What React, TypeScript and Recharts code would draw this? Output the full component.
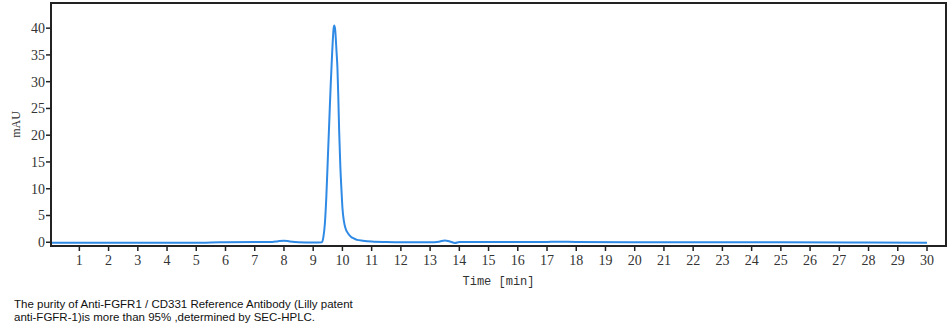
import React from 'react';
import { LineChart, Line, XAxis, YAxis, ReferenceArea } from 'recharts';

const times = [
  0, 1, 2, 3, 4, 5, 5.5, 6, 7, 7.6, 7.8, 8.0, 8.2, 8.5, 9.0, 9.3,
  9.35, 9.4, 9.45, 9.5, 9.55, 9.6, 9.65, 9.7, 9.72, 9.75, 9.8, 9.83, 9.86, 9.89, 9.93, 9.97,
  10.0, 10.05, 10.1, 10.2, 10.3, 10.4, 10.5, 10.7, 11.0, 11.5, 12, 13, 13.3, 13.5, 13.7, 13.85,
  14.0, 15, 17, 17.3, 18, 20, 25, 28, 30,
];
const absorbance = [
  -0.1, -0.1, -0.1, -0.1, -0.1, -0.1, -0.05, 0.0, 0.05, 0.05, 0.2, 0.3, 0.15, 0.0, -0.05, 0.0,
  1.0, 3.5, 8.5, 15.5, 22.5, 29.5, 35.5, 40.0, 40.5, 39.8, 35.5, 32.5, 27.0, 20.5, 14.0, 9.5,
  6.5, 4.0, 2.7, 1.6, 1.0, 0.7, 0.45, 0.3, 0.15, 0.05, 0.0, 0.0, 0.1, 0.35, 0.1, -0.15,
  0.05, 0.05, 0.05, 0.1, 0.05, 0.0, 0.0, -0.05, -0.1,
];
const xTicks = Array.from({ length: 30 }, (_, i) => i + 1);
const yTicks = [0, 5, 10, 15, 20, 25, 30, 35, 40];
const captionLines = [
  'The purity of Anti-FGFR1 / CD331 Reference Antibody (Lilly patent',
  'anti-FGFR-1)is more than 95% ,determined by SEC-HPLC.',
];

const data = times.map((t, i) => ({ t, v: absorbance[i] }));

const X_DOMAIN: [number, number] = [0.03, 30.65];
const Y_DOMAIN: [number, number] = [-0.7, 44.7];

const SERIF = '"Liberation Serif", "DejaVu Serif", serif';

const XTick = (props: any) => {
  const { x, y, payload } = props;
  return (
    <text x={x} y={y + 13} textAnchor="middle" fontFamily={SERIF} fontSize={14} fill="#333">
      {payload.value}
    </text>
  );
};

const YTick = (props: any) => {
  const { x, y, payload } = props;
  return (
    <text x={x} y={y + 5} textAnchor="end" fontFamily={SERIF} fontSize={14} fill="#333">
      {payload.value}
    </text>
  );
};

export default function App() {
  return (
    <div style={{ position: 'absolute', left: 0, top: 0, width: 952, height: 335, background: '#fff' }}>
      <LineChart
        width={952}
        height={335}
        data={data}
        margin={{ top: 3, right: 6, left: 0, bottom: 0 }}
      >
        <XAxis
          dataKey="t"
          type="number"
          domain={X_DOMAIN}
          ticks={xTicks}
          allowDataOverflow
          height={89}
          axisLine={{ stroke: '#222', strokeWidth: 2 }}
          tickLine={{ stroke: '#222', strokeWidth: 1.5 }}
          tickSize={5}
          tickMargin={1}
          tick={<XTick />}
          interval={0}
          label={{
            value: 'Time [min]',
            position: 'center',
            dy: -10,
            style: { fontFamily: '"Liberation Mono", monospace', fontSize: 12, fill: '#333' },
          }}
        />
        <YAxis
          type="number"
          domain={Y_DOMAIN}
          ticks={yTicks}
          allowDataOverflow
          width={51}
          axisLine={{ stroke: '#222', strokeWidth: 2 }}
          tickLine={{ stroke: '#222', strokeWidth: 1.5 }}
          tickSize={5}
          tickMargin={1}
          tick={<YTick />}
          interval={0}
          label={{
            value: 'mAU',
            position: 'center',
            angle: -90,
            dx: -10,
            style: { fontFamily: SERIF, fontSize: 12, fill: '#333' },
          }}
        />
        <ReferenceArea
          x1={X_DOMAIN[0]}
          x2={X_DOMAIN[1]}
          y1={Y_DOMAIN[0]}
          y2={Y_DOMAIN[1]}
          fill="none"
          fillOpacity={0}
          stroke="#222"
          strokeWidth={2}
          ifOverflow="visible"
        />
        <Line
          dataKey="v"
          type="monotone"
          stroke="#2f8ae5"
          strokeWidth={2}
          dot={false}
          isAnimationActive={false}
        />
      </LineChart>
      <div
        style={{
          position: 'absolute',
          left: 14,
          top: 298,
          fontFamily: '"Liberation Sans", sans-serif',
          fontSize: 11.5,
          lineHeight: '13px',
          color: '#111',
        }}
      >
        {captionLines.map((l, i) => (
          <div key={i} style={{ height: 13, whiteSpace: 'nowrap' }}>{l}</div>
        ))}
      </div>
    </div>
  );
}
